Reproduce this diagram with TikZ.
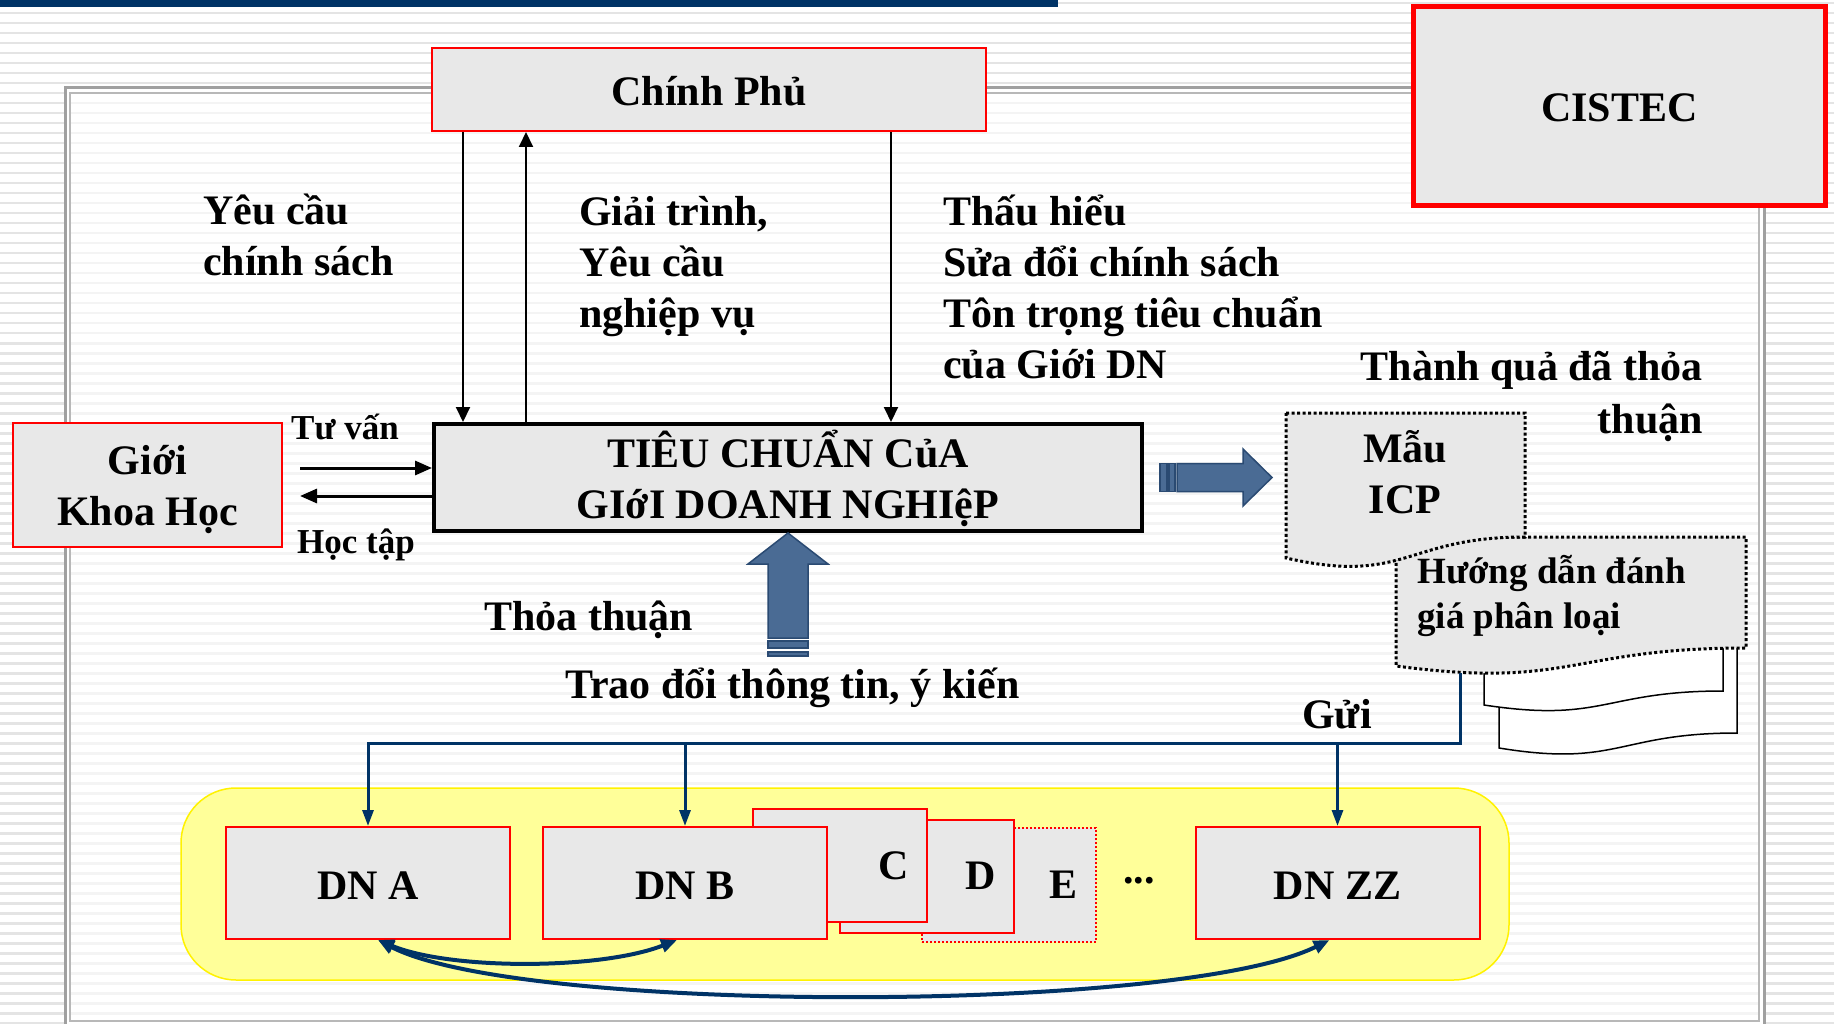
\documentclass[tikz,border=0pt]{standalone}
\usepackage{fontspec}
\setmainfont{Liberation Serif}
\usetikzlibrary{arrows.meta, positioning, calc}

\definecolor{boxgray}{HTML}{E8E8E8}
\definecolor{boxred}{HTML}{FF0000}
\definecolor{navy}{HTML}{003366}
\definecolor{steel}{HTML}{4A6B94}
\definecolor{steeledge}{HTML}{2A4A72}
\definecolor{padyellow}{HTML}{FFFF99}
\definecolor{stripeout}{HTML}{E4E4E4}
\definecolor{stripein}{HTML}{F4F4F4}
\definecolor{framegray}{HTML}{A0A0A0}

\newcommand{\bigfont}{\fontsize{42}{51}\selectfont\bfseries}
\newcommand{\midfont}{\fontsize{37}{45}\selectfont\bfseries}
\newcommand{\smallfont}{\fontsize{35}{42}\selectfont\bfseries}
% document shape: left, top, right, right foot, left foot
\newcommand{\docpath}[5]{(#1,#2) -- (#3,#2) -- (#3,#4)
  .. controls ({(#1+#3)/2},#4) and ({(#1+#3)/2},{#5+1.3*(#5-#4)}) .. (#1,#5) -- cycle}

\begin{document}
\begin{tikzpicture}[x=1pt, y=-1pt,
    panel/.style={draw=boxred, line width=2pt, fill=boxgray, inner sep=0pt, font=\bigfont, text height=32pt, text depth=0pt},
    firm/.style={panel, minimum width=284, minimum height=112},
    back/.style={panel, minimum width=174, minimum height=113},
    lbl/.style={inner sep=0pt, font=\bigfont},
    pline/.style={line width=2pt, -{Triangle[length=15pt, width=14pt]}},
    mline/.style={line width=3pt, -{Triangle[length=17pt, width=14pt]}},
    sendline/.style={draw=navy, line width=3pt},
    sendtip/.style={sendline, -{Triangle[length=16pt, width=11pt]}},
    linkback/.style={draw=navy, line width=4pt, {Triangle[length=16pt, width=13pt]}-{Triangle[length=16pt, width=13pt]}},
    block/.style={fill=steel, draw=steeledge, line width=1.5pt},
    paper/.style={draw=black, line width=3pt, dash pattern=on 3pt off 2.5pt, fill=boxgray},
    sheet/.style={draw=black, line width=1.5pt, fill=white}]
    % background stripes and frame
    \useasboundingbox (0,0) rectangle (1834,1024);
    \fill[white] (0,0) rectangle (1834,1024);
    \foreach \y in {2,12,...,1022}
        \fill[stripeout] (0,\y) rectangle (1834,\y+2.5);
    \fill[white] (65,88) rectangle (1764,1030);
    \foreach \y in {92,102,...,1012}
        \fill[stripein] (70,\y) rectangle (1759,\y+2.5);
    \draw[framegray, line width=3pt] (65,88) rectangle (1764,1030);
    \draw[framegray!75, line width=2pt] (70,93) rectangle (1759,1021);
    \fill[navy] (0,0) rectangle (1058,7);

    % main boxes
    \node[panel, minimum width=554, minimum height=83] (gov) at (709,89.5) {Chính Phủ};
    \node[panel, line width=5pt, minimum width=412, minimum height=199] (cistec) at (1619.5,106) {CISTEC};
    \node[panel, draw=black, line width=4pt, minimum width=708, minimum height=107, align=center, text height=81pt] (std) at (788,477.5) {TIÊU CHUẨN CủA\\GIớI DOANH NGHIệP};
    \node[panel, minimum width=269, minimum height=124, align=center, text height=80pt] (sci) at (147.5,485) {Giới\\Khoa Học};

    % labels (base = last line)
    \node[lbl, anchor=base west, align=left] (ask) at (203,276) {Yêu cầu\\chính sách};
    \node[lbl, anchor=base west, align=left] (explain) at (579,327) {Giải trình,\\Yêu cầu\\nghiệp vụ};
    \node[lbl, anchor=base west, align=left] (revise) at (943,378) {Thấu hiểu\\Sửa đổi chính sách\\Tôn trọng tiêu chuẩn\\của Giới DN};
    \node[lbl, font=\smallfont, anchor=base west] (advise) at (291,439) {Tư vấn};
    \node[lbl, font=\smallfont, anchor=base west] (learn) at (297,553) {Học tập};
    \node[lbl, anchor=base west] (agree) at (484,630) {Thỏa thuận};
    \node[lbl, anchor=base west] (talk) at (565,698) {Trao đổi thông tin, ý kiến};
    \node[lbl, anchor=base east, align=right, font={\fontsize{42}{53}\selectfont\bfseries}] (result) at (1703,433) {Thành quả đã thỏa\\thuận};

    % arrows to and from the government
    \draw[pline] (gov.south -| 463,0) -- (std.north -| 463,0);
    \draw[pline] (std.north -| 526,0) -- (gov.south -| 526,0);
    \draw[pline] (gov.south -| 891,0) -- (std.north -| 891,0);
    \draw[mline, shorten <=17pt] (sci.east |- 0,468) -- (std.west |- 0,468);
    \draw[mline, shorten >=17pt] (std.west |- 0,496) -- (sci.east |- 0,496);

    % block arrows
    \filldraw[block] (std.south) -- ++(40,31) -- ++(-20,0) -- ++(0,74) -- ++(-40,0) -- ++(0,-74) -- ++(-20,0) -- cycle;
    \filldraw[block] ($(std.south)+(-20,108)$) rectangle ++(40,7);
    \filldraw[block] ($(std.south)+(-20,119)$) rectangle ++(40,4);
    \filldraw[block] ($(std.east)+(128,0)$) -- ++(-29,-28.5) -- ++(0,14.5) -- ++(-66,0) -- ++(0,28) -- ++(66,0) -- ++(0,14.5) -- cycle;
    \filldraw[block] ($(std.east)+(16,-14)$) rectangle ++(7,28);
    \filldraw[block] ($(std.east)+(25,-14)$) rectangle ++(6,28);

    % documents
    \filldraw[sheet] \docpath{1499}{610}{1737}{733}{748};
    \filldraw[sheet] \docpath{1484}{600}{1723}{691}{705};
    \filldraw[paper] \docpath{1396}{537}{1746}{648}{666};
    \filldraw[paper] \docpath{1286}{413}{1525}{537}{558};
    \node[lbl, anchor=base, align=center] (icp) at (1405,513) {Mẫu\\ICP};
    \node[lbl, font=\midfont, anchor=base west, align=left] (guide) at (1417,628) {Hướng dẫn đánh\\giá phân loại};

    % enterprises
    \node[draw=yellow, fill=padyellow, line width=1.5pt, rounded corners=55pt, minimum width=1328, minimum height=192] (firms) at (845,884) {};
    \node[panel, dotted, minimum width=174, minimum height=114] (dnE) at (1009,885) {};
    \node[back] (dnD) at (927,876) {};
    \node[back] (dnC) at (840,865.5) {};
    \node[firm] (dnA) at (368,883) {DN A};
    \node[firm] (dnB) at (685,883) {DN B};
    \node[firm] (dnZZ) at (1337.5,883) {DN ZZ};
    \node[lbl] (lblC) at ([xshift=-34pt]dnC.east) {C};
    \node[lbl] (lblD) at ([xshift=-34pt]dnD.east) {D};
    \node[lbl] (lblE) at ([xshift=-34pt]dnE.east) {E};
    \node[lbl] (more) at (1139,881) {...};

    % sending the results
    \coordinate (guidefoot) at (1460,673);
    \node[lbl, anchor=base west] (send) at (1302,728) {Gửi};
    \draw[sendtip] (guidefoot) -- (guidefoot |- 0,743) -| (dnA.north);
    \draw[sendtip] (dnB.north |- 0,743) -- (dnB.north);
    \draw[sendtip] (dnZZ.north |- 0,743) -- (dnZZ.north);
    \draw[linkback] ([xshift=10pt]dnA.south) .. controls (450,970) and (600,970) .. ([xshift=-8pt]dnB.south);
    \draw[linkback] ([xshift=10pt]dnA.south) .. controls (520,1014) and (1180,1014) .. ([xshift=-8pt]dnZZ.south);
\end{tikzpicture}
\end{document}
